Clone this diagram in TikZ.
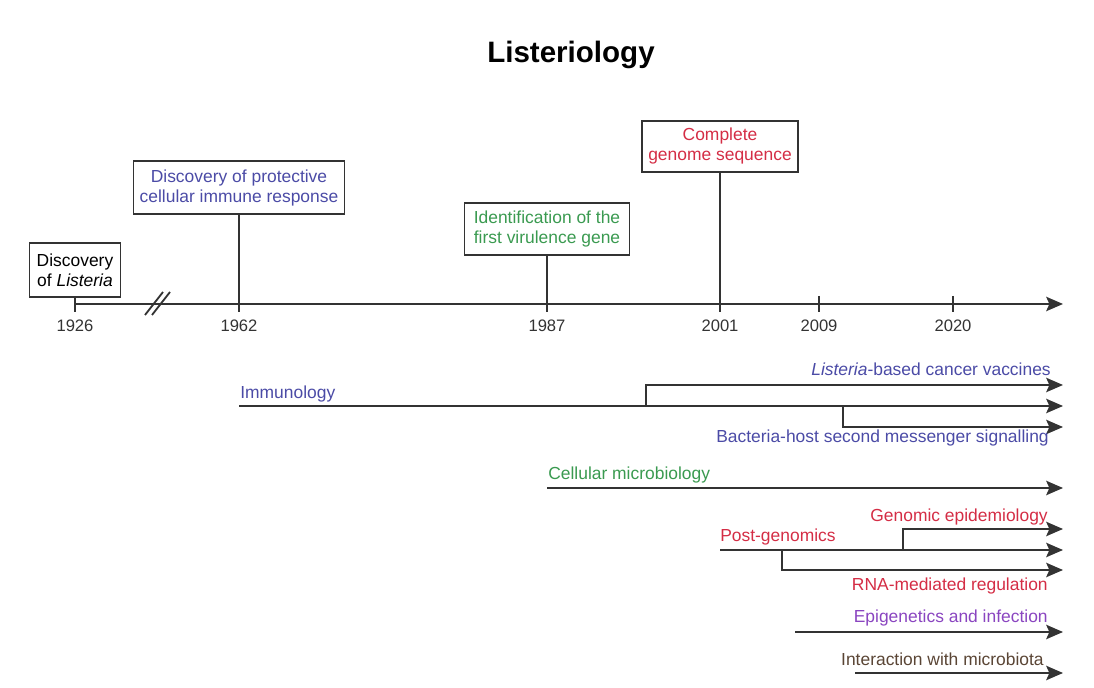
\documentclass[tikz,border=0pt]{standalone}
\usepackage{fontspec}
\setmainfont{Liberation Sans}
\usetikzlibrary{arrows.meta}
\definecolor{immblue}{HTML}{4B4BA6}
\definecolor{virgreen}{HTML}{3A9A50}
\definecolor{genred}{HTML}{D42D45}
\definecolor{epipurple}{HTML}{8A45C0}
\definecolor{micbrown}{HTML}{5A4535}
\newcommand{\lblfont}{\fontsize{12.4}{14.2}\selectfont}
\newcommand{\yrfont}{\fontsize{11.8}{13}\selectfont}
\newcommand{\ttlfont}{\fontsize{21}{25}\selectfont\bfseries}

\begin{document}
\begin{tikzpicture}[x = 0.025cm, y = -0.025cm,
  axis/.style = {draw = black!80, line width = 1.3pt},
  branch/.style = {axis, -{Stealth[length = 0.42cm, width = 0.36cm, inset = 0.08cm]}},
  event/.style = {rectangle, draw = black!80, line width = 1.1pt, align = center,
  font = \lblfont, inner sep = 0pt},
  year/.style = {font = \yrfont, text = black!80},
  field/.style = {font = \lblfont, inner sep = 0pt}]
  \useasboundingbox (0,0) rectangle (1094,688);

  \node [font = \ttlfont, anchor = base] (title) at (571,63) {Listeriology};

  \coordinate (y1926) at (75,304);
  \coordinate (y1962) at (239,304);
  \coordinate (y1987) at (547,304);
  \coordinate (y2001) at (720,304);
  \coordinate (y2009) at (819,304);
  \coordinate (y2020) at (953,304);
  \coordinate (axE) at (1063,304);
  \coordinate (b1926) at (75,312);
  \coordinate (b1962) at (239,312);
  \coordinate (b1987) at (547,312);
  \coordinate (b2001) at (720,312);
  \coordinate (b2009) at (819,312);
  \coordinate (b2020) at (953,312);
  \coordinate (t2009) at (819,296);
  \coordinate (t2020) at (953,296);

  \draw [branch] (y1926) -- (axE);
  \draw [axis] (145,315) -- (163,292);
  \draw [axis] (152,315) -- (170,292);
  \draw [axis] (t2009) -- (b2009);
  \draw [axis] (t2020) -- (b2020);

  \node [below of = y1926, node distance = 0.54cm, year] (l1926) {1926};
  \node [below of = y1962, node distance = 0.54cm, year] (l1962) {1962};
  \node [below of = y1987, node distance = 0.54cm, year] (l1987) {1987};
  \node [below of = y2001, node distance = 0.54cm, year] (l2001) {2001};
  \node [below of = y2009, node distance = 0.54cm, year] (l2009) {2009};
  \node [below of = y2020, node distance = 0.54cm, year] (l2020) {2020};

  \node [above of = y1926, node distance = 0.85cm, event, minimum width = 2.275cm,
  minimum height = 1.35cm] (listeria) {Discovery\\of \textit{Listeria}};
  \node [above of = y1962, node distance = 2.91cm, event, minimum width = 5.275cm,
  minimum height = 1.325cm, text = immblue] (immune) {Discovery of protective\\cellular
  immune response};
  \node [above of = y1987, node distance = 1.875cm, event, minimum width = 4.125cm,
  minimum height = 1.3cm, text = virgreen] (virulence) {Identification of the\\first
  virulence gene};
  \node [above of = y2001, node distance = 3.94cm, event, minimum width = 3.9cm,
  minimum height = 1.275cm, text = genred] (genome) {Complete\\genome sequence};
  \draw [axis] (listeria) -- (b1926);
  \draw [axis] (immune) -- (b1962);
  \draw [axis] (virulence) -- (b1987);
  \draw [axis] (genome) -- (b2001);

  \coordinate (immS) at (239,406);
  \coordinate (immE) at (1063,406);
  \coordinate (vacS) at (646,406);
  \coordinate (vacE) at (1063,385);
  \coordinate (sigS) at (843,406);
  \coordinate (sigE) at (1063,427);
  \draw [branch] (immS) -- (immE);
  \draw [branch] (vacS) |- (vacE);
  \draw [branch] (sigS) |- (sigE);
  \node [field, anchor = base west, text = immblue] (immL) at (240,399) {Immunology};
  \node [field, anchor = base east, text = immblue] (vacL) at (1051,376)
  {\textit{Listeria}-based cancer vaccines};
  \node [field, anchor = base east, text = immblue] (sigL) at (1049,443)
  {Bacteria-host second messenger signalling};

  \coordinate (celS) at (547,488);
  \coordinate (celE) at (1063,488);
  \draw [branch] (celS) -- (celE);
  \node [field, anchor = base west, text = virgreen] (celL) at (548,480)
  {Cellular microbiology};

  \coordinate (postS) at (720,550);
  \coordinate (postE) at (1063,550);
  \coordinate (epiS) at (903,550);
  \coordinate (epiE) at (1063,529);
  \coordinate (rnaS) at (782,550);
  \coordinate (rnaE) at (1063,570);
  \draw [branch] (postS) -- (postE);
  \draw [branch] (epiS) |- (epiE);
  \draw [branch] (rnaS) |- (rnaE);
  \node [field, anchor = base west, text = genred] (postL) at (720,542) {Post-genomics};
  \node [field, anchor = base east, text = genred] (epiL) at (1048,522)
  {Genomic epidemiology};
  \node [field, anchor = base east, text = genred] (rnaL) at (1048,591)
  {RNA-mediated regulation};

  \coordinate (epgS) at (795,632);
  \coordinate (epgE) at (1063,632);
  \draw [branch] (epgS) -- (epgE);
  \node [field, anchor = base east, text = epipurple] (epgL) at (1048,623)
  {Epigenetics and infection};

  \coordinate (micS) at (855,673);
  \coordinate (micE) at (1063,673);
  \draw [branch] (micS) -- (micE);
  \node [field, anchor = base east, text = micbrown] (micL) at (1044,665)
  {Interaction with microbiota};
\end{tikzpicture}
\end{document}
